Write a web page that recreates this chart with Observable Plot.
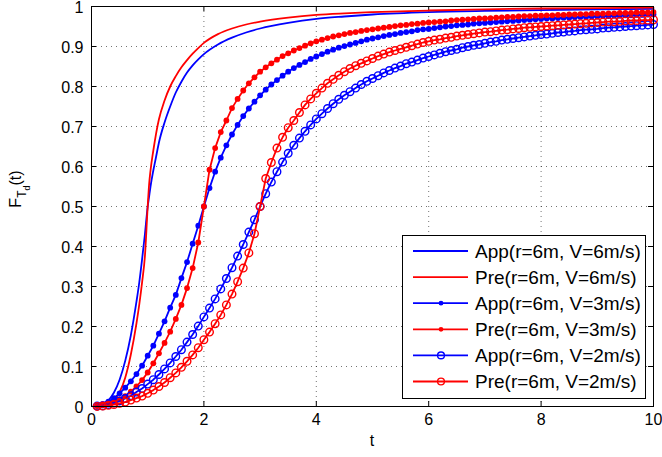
<!DOCTYPE html>
<html><head><meta charset="utf-8">
<script src="https://cdn.jsdelivr.net/npm/d3@7"></script>
<script src="https://cdn.jsdelivr.net/npm/@observablehq/plot@0.6"></script>
<style>
body{margin:0;background:#fff}
#chart svg{font-family:"Liberation Sans",Arial,Helvetica,sans-serif;display:block}
</style>
</head><body><div id="chart"></div>
<script>
// ---- data ----
const tGrid = [0.1,0.2,0.3,0.4,0.5,0.6,0.7,0.8,0.9,1.0,1.1,1.2,1.3,1.4,1.5,1.6,1.7,1.8,1.9,2.0,
2.1,2.2,2.3,2.4,2.5,2.6,2.7,2.8,2.9,3.0,3.1,3.2,3.3,3.4,3.5,3.6,3.7,3.8,3.9,4.0,
4.1,4.2,4.3,4.4,4.5,4.6,4.7,4.8,4.9,5.0,5.1,5.2,5.3,5.4,5.5,5.6,5.7,5.8,5.9,6.0,
6.1,6.2,6.3,6.4,6.5,6.6,6.7,6.8,6.9,7.0,7.1,7.2,7.3,7.4,7.5,7.6,7.7,7.8,7.9,8.0,
8.1,8.2,8.3,8.4,8.5,8.6,8.7,8.8,8.9,9.0,9.1,9.2,9.3,9.4,9.5,9.6,9.7,9.8,9.9,10.0];

const t6 = [0.1,0.2,0.3,0.4,0.5,0.6,0.7,0.8,0.85,0.9,0.95,1.0,1.025,1.05,1.1,1.15,1.2,
1.3,1.4,1.5,1.6,1.7,1.8,1.9,2.0,2.25,2.5,2.75,3,3.5,4,4.5,5,6,7,8,9,10];

const app6 = [0.0006,0.005,0.015,0.035,0.067,0.114,0.178,0.262,0.31,0.368,0.43,0.5,0.525,0.55,0.59,0.625,0.66,
0.71,0.75,0.785,0.812,0.835,0.853,0.868,0.881,0.905,0.922,0.935,0.945,0.959,0.969,0.975,0.98,0.986,0.989,0.991,0.993,0.994];
const pre6 = [0.0002,0.0015,0.006,0.016,0.036,0.072,0.13,0.208,0.255,0.31,0.375,0.5,0.555,0.59,0.64,0.683,0.718,
0.765,0.8,0.826,0.848,0.866,0.882,0.896,0.909,0.931,0.945,0.955,0.962,0.972,0.979,0.983,0.986,0.990,0.993,0.995,0.996,0.997];

const app3 = [0.002,0.006,0.012,0.021,0.033,0.047,0.063,0.081,0.102,0.127,
0.152,0.182,0.213,0.247,0.279,0.321,0.361,0.407,0.452,0.5,
0.546,0.587,0.622,0.653,0.68,0.704,0.726,0.745,0.762,0.778,
0.792,0.805,0.816,0.827,0.837,0.846,0.854,0.861,0.869,0.875,
0.881,0.887,0.892,0.897,0.901,0.905,0.909,0.913,0.917,0.920,
0.923,0.926,0.929,0.931,0.934,0.936,0.938,0.941,0.943,0.944,
0.946,0.948,0.950,0.951,0.953,0.954,0.955,0.957,0.958,0.959,
0.960,0.961,0.962,0.963,0.964,0.965,0.966,0.967,0.968,0.969,
0.970,0.970,0.971,0.972,0.972,0.973,0.974,0.974,0.975,0.975,
0.976,0.976,0.977,0.977,0.978,0.978,0.979,0.979,0.980,0.980];

const pre3 = [0.001,0.003,0.006,0.011,0.018,0.026,0.037,0.050,0.066,0.085,
0.108,0.133,0.159,0.187,0.219,0.254,0.296,0.346,0.41,0.5,
0.592,0.646,0.686,0.715,0.746,0.769,0.79,0.808,0.823,0.837,
0.848,0.858,0.867,0.876,0.883,0.89,0.896,0.902,0.908,0.913,
0.917,0.921,0.925,0.928,0.931,0.934,0.936,0.939,0.941,0.943,
0.945,0.947,0.949,0.951,0.953,0.954,0.956,0.957,0.959,0.960,
0.961,0.962,0.963,0.965,0.966,0.967,0.968,0.969,0.970,0.970,
0.971,0.972,0.973,0.974,0.974,0.975,0.976,0.976,0.977,0.977,
0.978,0.978,0.979,0.979,0.980,0.980,0.981,0.981,0.982,0.982,
0.982,0.983,0.983,0.984,0.984,0.984,0.985,0.985,0.985,0.986];

const app2 = [0.001,0.002,0.005,0.009,0.014,0.020,0.027,0.036,0.045,0.056,
0.067,0.080,0.094,0.109,0.125,0.142,0.161,0.180,0.201,0.224,
0.246,0.269,0.294,0.320,0.347,0.376,0.405,0.436,0.467,0.5,
0.532,0.561,0.587,0.611,0.633,0.653,0.671,0.688,0.704,0.719,
0.732,0.745,0.757,0.768,0.778,0.787,0.796,0.805,0.813,0.820,
0.827,0.834,0.840,0.846,0.851,0.857,0.861,0.866,0.871,0.875,
0.879,0.883,0.887,0.890,0.893,0.897,0.900,0.903,0.905,0.908,
0.911,0.913,0.916,0.918,0.920,0.922,0.924,0.926,0.928,0.930,
0.931,0.933,0.935,0.936,0.938,0.939,0.941,0.942,0.943,0.944,
0.946,0.947,0.948,0.949,0.950,0.951,0.952,0.953,0.954,0.955];

const pre2 = [0.0003,0.001,0.003,0.005,0.008,0.011,0.016,0.021,0.026,0.033,
0.041,0.050,0.060,0.072,0.084,0.098,0.113,0.129,0.147,0.167,
0.186,0.207,0.229,0.254,0.281,0.312,0.346,0.384,0.432,0.5,
0.57,0.61,0.646,0.673,0.697,0.715,0.735,0.754,0.769,0.783,
0.796,0.808,0.818,0.828,0.837,0.845,0.852,0.858,0.864,0.870,
0.876,0.881,0.886,0.890,0.894,0.898,0.902,0.906,0.910,0.913,
0.916,0.918,0.921,0.923,0.926,0.928,0.930,0.932,0.934,0.936,
0.937,0.939,0.941,0.942,0.944,0.945,0.947,0.948,0.949,0.950,
0.951,0.952,0.953,0.954,0.955,0.956,0.957,0.958,0.959,0.960,
0.961,0.962,0.962,0.963,0.964,0.965,0.965,0.966,0.966,0.967];

const seriesNames = ["App(r=6m, V=6m/s)","Pre(r=6m, V=6m/s)","App(r=6m, V=3m/s)","Pre(r=6m, V=3m/s)","App(r=6m, V=2m/s)","Pre(r=6m, V=2m/s)"];
const seriesColors = ["#0000ff","#ff0000","#0000ff","#ff0000","#0000ff","#ff0000"];
const seriesMarkers = ["none","none","dot","dot","circle","circle"];

const xTicks = [0,2,4,6,8,10];
const xTickLabels = ["0","2","4","6","8","10"];
const yTicks = [0,0.1,0.2,0.3,0.4,0.5,0.6,0.7,0.8,0.9,1];
const yTickLabels = ["0","0.1","0.2","0.3","0.4","0.5","0.6","0.7","0.8","0.9","1"];
const xLabel = "t";

// ---- build tables ----
const seriesT = [t6,t6,tGrid,tGrid,tGrid,tGrid];
const seriesV = [app6,pre6,app3,pre3,app2,pre2];
const tables = seriesV.map((vals,k)=>vals.map((F,i)=>({t: seriesT[k][i], F})));

// ---- layout ----
const W=662, H=457, mL=91, mR=9, mT=6, mB=51;
const innerW = W-mL-mR, innerH = H-mT-mB;
const tick = 5;
const lineW = 1.8, dotR = 2.9, circR = 3.8, circW = 1.4;
const gridStyle = {stroke:"#000", strokeOpacity:0.55, strokeDasharray:"1,4", strokeWidth:1};

const marks = [
  Plot.ruleX(xTicks.slice(1,-1), gridStyle),
  Plot.ruleY(yTicks.slice(1,-1), gridStyle),
  Plot.ruleX(xTicks, {stroke:"#000", insetTop: innerH - tick}),
  Plot.ruleX(xTicks, {stroke:"#000", insetBottom: innerH - tick}),
  Plot.ruleY(yTicks, {stroke:"#000", insetRight: innerW - tick}),
  Plot.ruleY(yTicks, {stroke:"#000", insetLeft: innerW - tick}),
  Plot.axisX(xTicks, {tickSize:0, tickPadding:7, fontSize:16, tickFormat: d => xTickLabels[xTicks.indexOf(d)], label:null}),
  Plot.axisY(yTicks, {tickSize:0, tickPadding:8, fontSize:16, dy:1, tickFormat: d => yTickLabels[yTicks.indexOf(d)], label:null})
];
tables.forEach((tb,k)=>{
  marks.push(Plot.line(tb, {x:"t", y:"F", stroke: seriesColors[k], strokeWidth:lineW, curve: k<2 ? "monotone-x" : "linear"}));
  if (seriesMarkers[k]==="dot") marks.push(Plot.dot(tb, {x:"t", y:"F", r:dotR, fill: seriesColors[k], stroke:"none"}));
  if (seriesMarkers[k]==="circle") marks.push(Plot.dot(tb, {x:"t", y:"F", r:circR, fill:"none", stroke: seriesColors[k], strokeWidth:circW}));
});
marks.push(Plot.frame({stroke:"#000", strokeWidth:1}));

const chart = Plot.plot({
  width: W, height: H,
  marginLeft: mL, marginRight: mR, marginTop: mT, marginBottom: mB,
  x: {domain:[0,10]},
  y: {domain:[0,1]},
  style: {background:"#fff", color:"#000", fontSize:"16px", fontFamily:"'Liberation Sans', Arial, sans-serif"},
  marks
});
document.getElementById("chart").appendChild(chart);

const svg = d3.select(chart);
// axis titles
svg.append("text").attr("x", mL + innerW/2).attr("y", 446).attr("text-anchor","middle")
  .attr("font-size",16).attr("fill","#000").text(xLabel);
const yl = svg.append("text").attr("transform","translate(21,189) rotate(-90)").attr("text-anchor","middle")
  .attr("font-size",16).attr("fill","#000");
yl.append("tspan").text("F");
yl.append("tspan").attr("font-size",12).attr("dy",5).text("T");
yl.append("tspan").attr("font-size",9).attr("dy",4).text("d");
yl.append("tspan").attr("font-size",16).attr("dy",-9).text("(t)");

// legend
const lg = svg.append("g");
const lx = 402, ly = 235, lw = 243, lh = 163, rowH = 26.1, row0 = 251;
lg.append("rect").attr("x",lx+0.5).attr("y",ly+0.5).attr("width",lw).attr("height",lh)
  .attr("fill","#fff").attr("stroke","#000").attr("stroke-width",1);
seriesNames.forEach((name,k)=>{
  const y = row0 + k*rowH;
  lg.append("line").attr("x1",413).attr("x2",468).attr("y1",y).attr("y2",y)
    .attr("stroke",seriesColors[k]).attr("stroke-width",lineW);
  if (seriesMarkers[k]==="dot") lg.append("circle").attr("cx",441).attr("cy",y).attr("r",2.4).attr("fill",seriesColors[k]);
  if (seriesMarkers[k]==="circle") lg.append("circle").attr("cx",441).attr("cy",y).attr("r",3.4).attr("fill","none").attr("stroke",seriesColors[k]).attr("stroke-width",circW);
  lg.append("text").attr("x",475).attr("y",y).attr("dy","0.36em").attr("text-anchor","start")
    .attr("font-size",19).attr("fill","#000").text(name);
});
</script>
</body></html>
